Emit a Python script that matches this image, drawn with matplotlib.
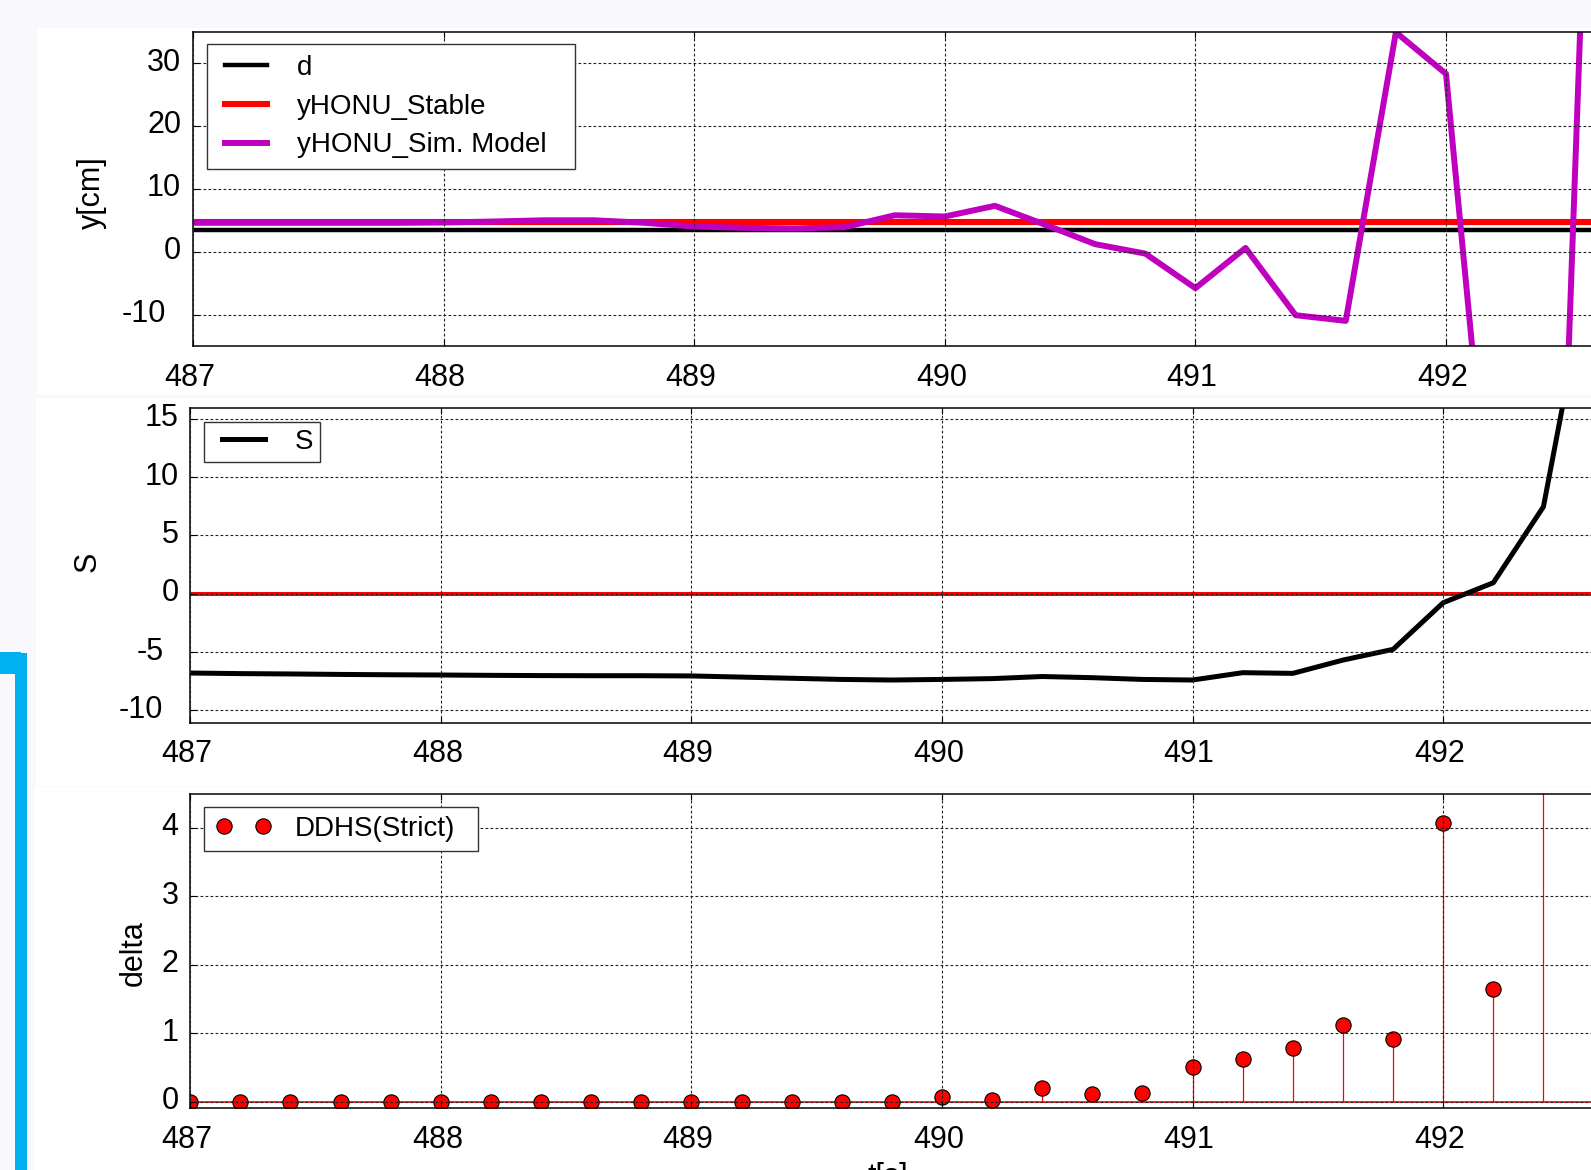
import matplotlib
matplotlib.use("Agg")
import matplotlib.pyplot as plt
from matplotlib.patches import Rectangle
from matplotlib.transforms import ScaledTranslation
from matplotlib.lines import Line2D
from matplotlib.legend_handler import HandlerLine2D

# sample times [s]
t = [487.0, 487.2, 487.4, 487.6, 487.8, 488.0, 488.2, 488.4, 488.6, 488.8,
     489.0, 489.2, 489.4, 489.6, 489.8, 490.0, 490.2, 490.4, 490.6, 490.8,
     491.0, 491.2, 491.4, 491.6, 491.8, 492.0, 492.2, 492.4, 492.6]

# top panel: reference d, stable HONU output, simulated model output
d_level = 3.5
y_stable = 4.7
y_sim = [4.6, 4.6, 4.6, 4.6, 4.6, 4.65, 4.8, 5.0, 5.0, 4.6,
         4.0, 3.8, 3.7, 3.9, 5.8, 5.6, 7.3, 4.3, 1.2, -0.3,
         -5.8, 0.6, -10.1, -11.0, 34.9, 28.3, -55.0, -115.0, 107.0]

# middle panel: S and its threshold
S = [-6.8, -6.85, -6.88, -6.92, -6.95, -6.97, -7.0, -7.02, -7.03, -7.03,
     -7.05, -7.15, -7.25, -7.35, -7.4, -7.35, -7.28, -7.1, -7.2, -7.35,
     -7.4, -6.77, -6.83, -5.69, -4.77, -0.77, 0.94, 7.46, 30.0]
s_threshold = 0.0

# bottom panel: DDHS(Strict) delta
t_delta = t[:-1]
delta = [0.0, 0.0, 0.0, 0.0, 0.0, 0.0, 0.0, 0.0, 0.0, 0.0,
         0.0, 0.0, 0.0, 0.0, 0.0, 0.07, 0.02, 0.20, 0.11, 0.13,
         0.50, 0.62, 0.78, 1.12, 0.92, 4.07, 1.64, 9.0]

xticks = [487, 488, 489, 490, 491, 492]
yticks1 = [-10, 0, 10, 20, 30]
yticks2 = [-10, -5, 0, 5, 10, 15]
yticks3 = [0, 1, 2, 3, 4]

W, H, DPI = 1591, 1170, 100
UNIT = 250.6  # pixels per second on the x axis
FS = 20 * DPI / 72  # legend font size in pixels

plt.rcParams['font.family'] = ['Liberation Sans', 'DejaVu Sans']
plt.rcParams['axes.unicode_minus'] = False

fig = plt.figure(figsize=(W / DPI, H / DPI), dpi=DPI, facecolor='#f8f8fd')


def fx(px):
    return px / W


def fy(px):
    return 1 - px / H


def px_shift(dx, dy):
    return ScaledTranslation(dx / DPI, dy / DPI, fig.dpi_scale_trans)


def panel_bg(x0, y0, y1, z):
    fig.add_artist(Rectangle((fx(x0), fy(y1)), 1 - fx(x0), (y1 - y0) / H,
                             transform=fig.transFigure, facecolor='white',
                             edgecolor='none', zorder=z))


def make_axes(left, top, bottom, z, ylim, yticks):
    ax = fig.add_axes([fx(left), fy(bottom), 6 * UNIT / W, (bottom - top) / H],
                      zorder=z)
    ax.set_xlim(487, 493)
    ax.set_ylim(*ylim)
    ax.set_xticks(xticks)
    ax.set_yticks(yticks)
    ax.tick_params(direction='in', top=True, right=True, length=4.5,
                   width=0.8, labelsize=22)
    ax.tick_params(axis='x', pad=12)
    ax.tick_params(axis='y', pad=8.5)
    ax.grid(True, color='#222222', linestyle=(0, (2.5, 2)), linewidth=0.8)
    ax.set_axisbelow(False)
    for sp in ax.spines.values():
        sp.set_linewidth(1.1)
    return ax


def nudge_tick_labels(ax, yticks):
    # MATLAB-like placement: labels sit a little high / left, negatives further left
    for tick in ax.xaxis.get_major_ticks():
        tick.label1.set_transform(tick.label1.get_transform() + px_shift(-3.5, 0))
    for tick, val in zip(ax.yaxis.get_major_ticks(), yticks):
        dx = -15 if val < 0 else 0
        tick.label1.set_transform(tick.label1.get_transform() + px_shift(dx, 4))


def add_legend(ax, handles, labels, left, top, right, pad_px, inset_px,
               line_px, text_px, npts=1, spacing=0.4):
    handler = HandlerLine2D(marker_pad=0, numpoints=npts, xpad=inset_px / FS)
    leg = ax.legend(handles, labels, loc='upper left',
                    bbox_to_anchor=(fx(left), fy(top + 60), (right - left) / W, 60 / H),
                    bbox_transform=fig.transFigure, mode='expand',
                    borderaxespad=0, fontsize=20, fancybox=False,
                    borderpad=pad_px / FS, labelspacing=spacing,
                    handlelength=(inset_px + line_px) / FS,
                    handletextpad=text_px / FS, numpoints=npts,
                    handler_map={Line2D: handler})
    fr = leg.get_frame()
    fr.set_edgecolor('#333333')
    fr.set_linewidth(1.0)
    fr.set_facecolor('white')
    fr.set_alpha(1)
    return leg


# ---- panel 1 -------------------------------------------------------------
panel_bg(38, 28, 395, 1)
ax1 = make_axes(193, 31.7, 346, 2, (-15, 35), yticks1)
l_d = ax1.axhline(d_level, color='black', lw=3.2, label='d')
l_st = ax1.axhline(y_stable, color='red', lw=4.4, label='yHONU_Stable')
l_sim, = ax1.plot(t, y_sim, color='#bf00bf', lw=4.3, label='yHONU_Sim. Model')
ax1.set_ylabel('y[cm]', fontsize=22, va='center')
ax1.yaxis.set_label_coords((92 - 193) / (6 * UNIT), 0.487)
ax1.set_xlabel('t[s]', fontsize=22)
ax1.xaxis.set_label_coords((888 - 193) / (6 * UNIT), -0.168)
add_legend(ax1, [l_d, l_st, l_sim], ['d', 'yHONU_Stable', 'yHONU_Sim. Model'],
           207, 44.3, 575, 10.5, 7.5, 42, 29.6, spacing=0.46)
nudge_tick_labels(ax1, yticks1)

# ---- panel 2 -------------------------------------------------------------
panel_bg(36, 398, 786, 3)
ax2 = make_axes(190.2, 408.3, 722.7, 4, (-11.06, 15.9), yticks2)
ax2.axhline(s_threshold, color='red', lw=2.9)
l_s, = ax2.plot(t, S, color='black', lw=3.6, label='S')
ax2.set_ylabel('S', fontsize=22, va='center')
ax2.yaxis.set_label_coords((88 - 190.2) / (6 * UNIT), 0.512)
ax2.set_xlabel('t[s]', fontsize=22)
ax2.xaxis.set_label_coords((888 - 190.2) / (6 * UNIT), -0.204)
add_legend(ax2, [l_s], ['S'], 204.4, 421.7, 319.6, 7.3, 10.3, 43, 29.7)
nudge_tick_labels(ax2, yticks2)

# ---- panel 3 -------------------------------------------------------------
panel_bg(34, 787, 1170, 5)
ax3 = make_axes(190.2, 793.7, 1108.3, 6, (-0.097, 4.5), yticks3)
ax3.axhline(0, color='red', lw=1.2)
markerline, stemlines, baseline = ax3.stem(t_delta, delta, linefmt='r-',
                                           markerfmt='o', basefmt=' ')
markerline.set(markerfacecolor='red', markeredgecolor='black',
               markersize=11, markeredgewidth=0.8)
stemlines.set_linewidth(0.9)
ax3.set_ylabel('delta', fontsize=22, va='center')
ax3.yaxis.set_label_coords((134 - 190.2) / (6 * UNIT), 0.494)
ax3.set_xlabel('t[s]', fontsize=22)
ax3.xaxis.set_label_coords((888 - 190.2) / (6 * UNIT), -0.172)
add_legend(ax3, [markerline], ['DDHS(Strict)'], 204.4, 806.7, 478.4,
           9.15, 9.95, 39.5, 31.7, npts=2)
nudge_tick_labels(ax3, yticks3)

# blue bracket on the far left
fig.add_artist(Rectangle((fx(0), fy(674)), fx(21), 22 / H, transform=fig.transFigure,
                         facecolor='#00b0f0', edgecolor='none', zorder=7))
fig.add_artist(Rectangle((fx(15), fy(1170)), fx(12), (1170 - 653) / H,
                         transform=fig.transFigure, facecolor='#00b0f0',
                         edgecolor='none', zorder=7))

fig.savefig('out.png', dpi=DPI, facecolor=fig.get_facecolor())
